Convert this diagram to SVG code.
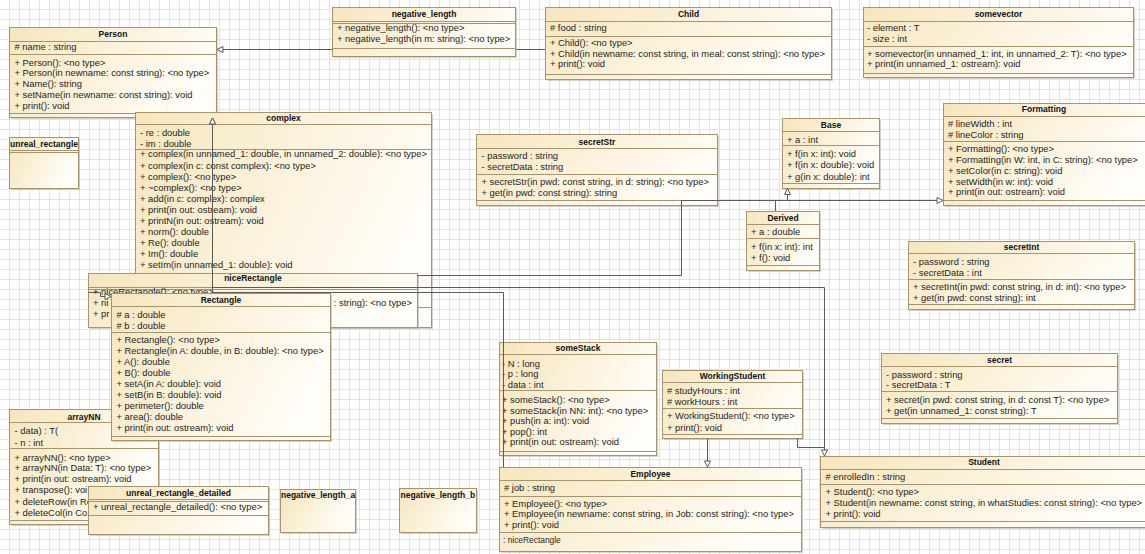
<svg xmlns="http://www.w3.org/2000/svg" width="1145" height="554" viewBox="0 0 1145 554">
<defs>
<pattern id="grid" width="10" height="10" patternUnits="userSpaceOnUse"><path d="M9.5 0V10M0 9.5H10" fill="none" stroke="#e4e4e4" stroke-width="1"/></pattern>
<linearGradient id="fg" x1="0" y1="0" x2="1" y2="0.35"><stop offset="0" stop-color="#f6e6bd"/><stop offset="1" stop-color="#fffdf7"/></linearGradient>
<marker id="tri" markerWidth="8" markerHeight="8" refX="7" refY="4" orient="auto" markerUnits="userSpaceOnUse"><path d="M1,1 L7,4 L1,7 z" fill="#fff" stroke="#5a5a5a" stroke-width="1"/></marker>
<style>
.bx{fill:url(#fg);stroke:#a7946c;stroke-width:1}
.sh{fill:#b5ad9c;opacity:.55}
.sp{stroke:#a7946c;stroke-width:1;fill:none}
.tx{font-family:"Liberation Sans",Arial,Helvetica,sans-serif;font-size:9.4px;fill:#1e1e1e}
.ti{font-family:"Liberation Sans",Arial,Helvetica,sans-serif;font-size:8.5px;font-weight:bold;fill:#111;text-anchor:middle}
.tl{text-anchor:start}
.te{text-anchor:end}
.sm{font-size:8.4px}
.cn{fill:none;stroke:#5a5a5a;stroke-width:1}
</style>
</defs>
<rect width="1145" height="554" fill="#fff"/>
<rect width="1145" height="554" fill="url(#grid)"/>

<g id="Person">
<rect class="sh" x="11" y="29" width="207" height="90"/>
<rect class="bx" x="9.5" y="27.5" width="207" height="90"/>
<path class="sp" d="M9.5 41.5H216.5M9.5 54.5H216.5M9.5 113.5H216.5"/>
<text class="ti" x="113" y="36.5">Person</text>
<text class="tx" x="14.5" y="50.4"># name : string</text>
<text class="tx" x="14.5" y="65.7">+ Person(): &lt;no type&gt;</text>
<text class="tx" x="14.5" y="76.4">+ Person(in newname: const string): &lt;no type&gt;</text>
<text class="tx" x="14.5" y="87">+ Name(): string</text>
<text class="tx" x="14.5" y="97.7">+ setName(in newname: const string): void</text>
<text class="tx" x="14.5" y="108.6">+ print(): void</text>
</g>

<g id="Child">
<rect class="sh" x="547" y="9" width="286" height="72"/>
<rect class="bx" x="545.5" y="7.5" width="286" height="72"/>
<path class="sp" d="M545.5 21.5H831.5M545.5 36.5H831.5M545.5 74.5H831.5"/>
<text class="ti" x="688.5" y="16.5">Child</text>
<text class="tx" x="550" y="31.1"># food : string</text>
<text class="tx" x="550" y="46.1">+ Child(): &lt;no type&gt;</text>
<text class="tx" x="550" y="56.7">+ Child(in newname: const string, in meal: const string): &lt;no type&gt;</text>
<text class="tx" x="550" y="67.4">+ print(): void</text>
</g>

<g id="somevector">
<rect class="sh" x="865" y="9" width="270" height="70"/>
<rect class="bx" x="863.5" y="7.5" width="270" height="70"/>
<path class="sp" d="M863.5 21.5H1133.5M863.5 46.5H1133.5M863.5 73.5H1133.5"/>
<text class="ti" x="998.5" y="17">somevector</text>
<text class="tx" x="867" y="31.4">- element : T</text>
<text class="tx" x="867" y="42.4">- size : int</text>
<text class="tx" x="867" y="56.7">+ somevector(in unnamed_1: int, in unnamed_2: T): &lt;no type&gt;</text>
<text class="tx" x="867" y="67.4">+ print(in unnamed_1: ostream): void</text>
</g>

<g id="unreal_rectangle">
<rect class="sh" x="11" y="139" width="69" height="51"/>
<rect class="bx" x="9.5" y="137.5" width="69" height="51"/>
<path class="sp" d="M9.5 150.5H78.5M9.5 152.5H78.5"/>
<text class="ti tl" x="10" y="147">unreal_rectangle</text>
</g>

<g id="arrayNN">
<rect class="sh" x="11" y="411" width="149" height="115"/>
<rect class="bx" x="9.5" y="409.5" width="149" height="115"/>
<path class="sp" d="M9.5 422.5H158.5M9.5 448.5H158.5M9.5 520.5H158.5"/>
<text class="ti" x="84" y="419.7">arrayNN</text>
<text class="tx" x="14.5" y="434.4">- data) : T(</text>
<text class="tx" x="14.5" y="445.7">- n : int</text>
<text class="tx" x="14.5" y="460.7">+ arrayNN(): &lt;no type&gt;</text>
<text class="tx" x="14.5" y="471.4">+ arrayNN(in Data: T): &lt;no type&gt;</text>
<text class="tx" x="14.5" y="482.4">+ print(in out: ostream): void</text>
<text class="tx" x="14.5" y="493.1">+ transpose(): voi</text>
<text class="tx" x="14.5" y="504.7">+ deleteRow(in Ro</text>
<text class="tx" x="14.5" y="515.7">+ deleteCol(in Co</text>
</g>

<g id="complex">
<rect class="sh" x="137" y="114" width="296" height="215"/>
<rect class="bx" x="135.5" y="112.5" width="296" height="215"/>
<path class="sp" d="M135.5 124.5H431.5M135.5 149.5H431.5M135.5 307.5H431.5"/>
<text class="ti" x="283.5" y="120.5">complex</text>
<text class="tx" x="140" y="136.4">- re : double</text>
<text class="tx" x="140" y="147.4">- im : double</text>
<text class="tx" x="140" y="157.4">+ complex(in unnamed_1: double, in unnamed_2: double): &lt;no type&gt;</text>
<text class="tx" x="140" y="168.5">+ complex(in c: const complex): &lt;no type&gt;</text>
<text class="tx" x="140" y="179.6">+ complex(): &lt;no type&gt;</text>
<text class="tx" x="140" y="190.7">+ ~complex(): &lt;no type&gt;</text>
<text class="tx" x="140" y="201.8">+ add(in c: complex): complex</text>
<text class="tx" x="140" y="212.9">+ print(in out: ostream): void</text>
<text class="tx" x="140" y="224">+ printN(in out: ostream): void</text>
<text class="tx" x="140" y="235.1">+ norm(): double</text>
<text class="tx" x="140" y="246.2">+ Re(): double</text>
<text class="tx" x="140" y="257.3">+ Im(): double</text>
<text class="tx" x="140" y="268.4">+ setIm(in unnamed_1: double): void</text>
</g>

<g id="niceRectangle">
<rect class="sh" x="90" y="275" width="329" height="54"/>
<rect class="bx" x="88.5" y="273.5" width="329" height="54"/>
<path class="sp" d="M88.5 287.5H417.5M88.5 289.5H417.5"/>
<text class="ti" x="253" y="281">niceRectangle</text>
<text class="tx" x="93" y="295.4">+ niceRectangle(): &lt;no type&gt;</text>
<text class="tx" x="93" y="306.4">+ ni</text>
<text class="tx te" x="412" y="306.4">: string): &lt;no type&gt;</text>
<text class="tx" x="93" y="317.4">+ pr</text>
</g>

<g id="Rectangle">
<rect class="sh" x="113" y="295" width="219" height="147"/>
<rect class="bx" x="111.5" y="293.5" width="219" height="147"/>
<path class="sp" d="M111.5 306.5H330.5M111.5 332.5H330.5M111.5 436.5H330.5"/>
<text class="ti" x="221" y="303">Rectangle</text>
<text class="tx" x="116.5" y="318.4"># a : double</text>
<text class="tx" x="116.5" y="329.4"># b : double</text>
<text class="tx" x="116.5" y="343.4">+ Rectangle(): &lt;no type&gt;</text>
<text class="tx" x="116.5" y="354.3">+ Rectangle(in A: double, in B: double): &lt;no type&gt;</text>
<text class="tx" x="116.5" y="365.2">+ A(): double</text>
<text class="tx" x="116.5" y="376.1">+ B(): double</text>
<text class="tx" x="116.5" y="387">+ setA(in A: double): void</text>
<text class="tx" x="116.5" y="397.9">+ setB(in B: double): void</text>
<text class="tx" x="116.5" y="408.8">+ perimeter(): double</text>
<text class="tx" x="116.5" y="419.7">+ area(): double</text>
<text class="tx" x="116.5" y="430.6">+ print(in out: ostream): void</text>
</g>

<g id="secretStr">
<rect class="sh" x="478" y="136" width="241" height="71"/>
<rect class="bx" x="476.5" y="134.5" width="241" height="71"/>
<path class="sp" d="M476.5 148.5H717.5M476.5 174.5H717.5M476.5 200.5H717.5"/>
<text class="ti" x="597" y="145">secretStr</text>
<text class="tx" x="481.5" y="158.7">- password : string</text>
<text class="tx" x="481.5" y="170.4">- secretData : string</text>
<text class="tx" x="481.5" y="185.1">+ secretStr(in pwd: const string, in d: string): &lt;no type&gt;</text>
<text class="tx" x="481.5" y="195.7">+ get(in pwd: const string): string</text>
</g>

<g id="Base">
<rect class="sh" x="784" y="120" width="97" height="70"/>
<rect class="bx" x="782.5" y="118.5" width="97" height="70"/>
<path class="sp" d="M782.5 131.5H879.5M782.5 145.5H879.5M782.5 183.5H879.5"/>
<text class="ti" x="831" y="128">Base</text>
<text class="tx" x="787" y="143">+ a : int</text>
<text class="tx" x="787" y="157.4">+ f(in x: int): void</text>
<text class="tx" x="787" y="168.1">+ f(in x: double): void</text>
<text class="tx" x="787" y="179.7">+ g(in x: double): int</text>
</g>

<g id="Formatting">
<rect class="sh" x="945" y="105" width="202" height="102"/>
<rect class="bx" x="943.5" y="103.5" width="202" height="102"/>
<path class="sp" d="M943.5 116.5H1145M943.5 141.5H1145M943.5 200.5H1145"/>
<text class="ti" x="1044" y="112">Formatting</text>
<text class="tx" x="948" y="127.4"># lineWidth : int</text>
<text class="tx" x="948" y="138.4"># lineColor : string</text>
<text class="tx" x="948" y="152.4">+ Formatting(): &lt;no type&gt;</text>
<text class="tx" x="948" y="163.4">+ Formatting(in W: int, in C: string): &lt;no type&gt;</text>
<text class="tx" x="948" y="174.1">+ setColor(in c: string): void</text>
<text class="tx" x="948" y="184.7">+ setWidth(in w: int): void</text>
<text class="tx" x="948" y="195.4">+ print(in out: ostream): void</text>
</g>

<g id="Derived">
<rect class="sh" x="748" y="213" width="73" height="59"/>
<rect class="bx" x="746.5" y="211.5" width="73" height="59"/>
<path class="sp" d="M746.5 224.5H819.5M746.5 238.5H819.5M746.5 265.5H819.5"/>
<text class="ti" x="783" y="221">Derived</text>
<text class="tx" x="751" y="235.4">+ a : double</text>
<text class="tx" x="751" y="250.4">+ f(in x: int): int</text>
<text class="tx" x="751" y="260.7">+ f(): void</text>
</g>

<g id="secretInt">
<rect class="sh" x="910" y="243" width="226" height="68"/>
<rect class="bx" x="908.5" y="241.5" width="226" height="68"/>
<path class="sp" d="M908.5 253.5H1134.5M908.5 279.5H1134.5M908.5 304.5H1134.5"/>
<text class="ti" x="1021.5" y="250">secretInt</text>
<text class="tx" x="913" y="264.7">- password : string</text>
<text class="tx" x="913" y="275.7">- secretData : int</text>
<text class="tx" x="913" y="290.1">+ secretInt(in pwd: const string, in d: int): &lt;no type&gt;</text>
<text class="tx" x="913" y="301.1">+ get(in pwd: const string): int</text>
</g>

<g id="secret">
<rect class="sh" x="883" y="355" width="236" height="70"/>
<rect class="bx" x="881.5" y="353.5" width="236" height="70"/>
<path class="sp" d="M881.5 366.5H1117.5M881.5 391.5H1117.5M881.5 418.5H1117.5"/>
<text class="ti" x="999.5" y="363.3">secret</text>
<text class="tx" x="886" y="378.4">- password : string</text>
<text class="tx" x="886" y="387.7">- secretData : T</text>
<text class="tx" x="886" y="403.4">+ secret(in pwd: const string, in d: const T): &lt;no type&gt;</text>
<text class="tx" x="886" y="414.4">+ get(in unnamed_1: const string): T</text>
</g>

<g id="someStack">
<rect class="sh" x="501" y="344" width="157" height="113"/>
<rect class="bx" x="499.5" y="342.5" width="157" height="113"/>
<path class="sp" d="M499.5 354.5H656.5M499.5 390.5H656.5M499.5 451.5H656.5"/>
<text class="ti" x="578" y="351">someStack</text>
<text class="tx" x="502" y="366.7">- N : long</text>
<text class="tx" x="502" y="377.1">- p : long</text>
<text class="tx" x="502" y="387.7">- data : int</text>
<text class="tx" x="502" y="403.4">+ someStack(): &lt;no type&gt;</text>
<text class="tx" x="502" y="414">+ someStack(in NN: int): &lt;no type&gt;</text>
<text class="tx" x="502" y="424.4">+ push(in a: int): void</text>
<text class="tx" x="502" y="434.9">+ pop(): int</text>
<text class="tx" x="502" y="445.4">+ print(in out: ostream): void</text>
</g>

<g id="WorkingStudent">
<rect class="sh" x="664" y="372" width="140" height="68"/>
<rect class="bx" x="662.5" y="370.5" width="140" height="68"/>
<path class="sp" d="M662.5 382.5H802.5M662.5 408.5H802.5M662.5 434.5H802.5"/>
<text class="ti" x="732.5" y="379">WorkingStudent</text>
<text class="tx" x="667" y="394.4"># studyHours : int</text>
<text class="tx" x="667" y="405.1"># workHours : int</text>
<text class="tx" x="667" y="419.1">+ WorkingStudent(): &lt;no type&gt;</text>
<text class="tx" x="667" y="430.7">+ print(): void</text>
</g>

<g id="Employee">
<rect class="sh" x="501" y="469" width="302" height="84"/>
<rect class="bx" x="499.5" y="467.5" width="302" height="84"/>
<path class="sp" d="M499.5 480.5H801.5M499.5 496.5H801.5M499.5 532.5H801.5"/>
<text class="ti" x="650.5" y="477">Employee</text>
<text class="tx" x="504" y="491.4"># job : string</text>
<text class="tx" x="504" y="506.7">+ Employee(): &lt;no type&gt;</text>
<text class="tx" x="504" y="517.4">+ Employee(in newname: const string, in Job: const string): &lt;no type&gt;</text>
<text class="tx" x="504" y="528.1">+ print(): void</text>
<text class="tx sm" x="503" y="543">: niceRectangle</text>
</g>

<g id="Student">
<rect class="sh" x="822" y="458" width="328" height="71"/>
<rect class="bx" x="820.5" y="456.5" width="328" height="71"/>
<path class="sp" d="M820.5 469.5H1148M820.5 484.5H1148M820.5 521.5H1148"/>
<text class="ti" x="984" y="465.3">Student</text>
<text class="tx" x="825.5" y="480.1"># enrolledIn : string</text>
<text class="tx" x="825.5" y="495.1">+ Student(): &lt;no type&gt;</text>
<text class="tx" x="825.5" y="506.4">+ Student(in newname: const string, in whatStudies: const string): &lt;no type&gt;</text>
<text class="tx" x="825.5" y="516.7">+ print(): void</text>
</g>

<g id="unreal_rectangle_detailed">
<rect class="sh" x="90" y="488" width="180" height="48"/>
<rect class="bx" x="88.5" y="486.5" width="180" height="48"/>
<path class="sp" d="M88.5 499.5H268.5M88.5 501.5H268.5M88.5 515.5H268.5"/>
<text class="ti" x="178.5" y="495.7">unreal_rectangle_detailed</text>
<text class="tx" x="93" y="510.1">+ unreal_rectangle_detailed(): &lt;no type&gt;</text>
</g>

<g id="negative_length_a">
<rect class="sh" x="282" y="491" width="75" height="43"/>
<rect class="bx" x="280.5" y="489.5" width="75" height="43"/>
<text class="ti tl" x="281" y="498">negative_length_a</text>
</g>

<g id="negative_length_b">
<rect class="sh" x="401" y="490" width="77" height="44"/>
<rect class="bx" x="399.5" y="488.5" width="77" height="44"/>
<text class="ti tl" x="400.5" y="497.7">negative_length_b</text>
</g>

<g id="connectors">
<path class="cn" d="M545 49.5H217" marker-end="url(#tri)"/>
<path class="cn" d="M503.5 467V292.5H212.5V118" marker-end="url(#tri)"/>
<path class="cn" d="M824.5 456V287.5H212.5V118" marker-end="url(#tri)"/>
<path class="cn" d="M417 275.5H681.5V200.5H943" marker-end="url(#tri)"/>
<path class="cn" d="M775.5 211V200.5H787.5V188.5" marker-end="url(#tri)"/>
<path class="cn" d="M707.5 438.5V467" marker-end="url(#tri)"/>
<path class="cn" d="M797.5 438.5V447.5H824.5V456" marker-end="url(#tri)"/>
<path class="cn" d="M88.5 292.5H100.5V296.5H111" marker-end="url(#tri)"/>
</g>

<g id="negative_length">
<rect class="sh" x="334" y="9" width="183" height="49"/>
<rect class="bx" x="332.5" y="7.5" width="183" height="49"/>
<path class="sp" d="M332.5 21.5H515.5M332.5 23.5H515.5M332.5 48.5H515.5"/>
<text class="ti" x="424" y="17">negative_length</text>
<text class="tx" x="337" y="31.4">+ negative_length(): &lt;no type&gt;</text>
<text class="tx" x="337" y="42.4">+ negative_length(in m: string): &lt;no type&gt;</text>
</g>
</svg>
